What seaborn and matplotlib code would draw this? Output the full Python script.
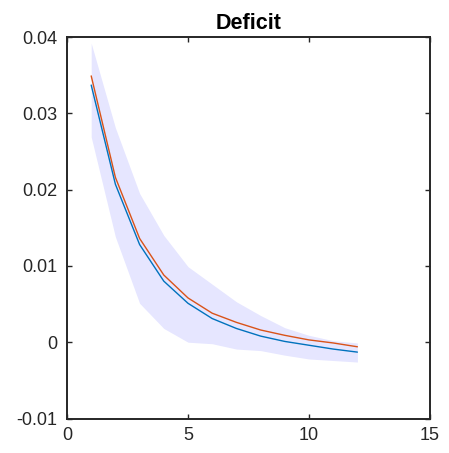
import matplotlib
matplotlib.use("Agg")
import matplotlib.pyplot as plt
import seaborn as sns
import pandas as pd

horizon = [1, 2, 3, 4, 5, 6, 7, 8, 9, 10, 11, 12]
median_resp = [0.0337, 0.0207, 0.0128, 0.0080, 0.0051, 0.0031, 0.0018, 0.0008, 0.0001, -0.0004, -0.0009, -0.0013]
point_resp = [0.0349, 0.0216, 0.0136, 0.0088, 0.0058, 0.0038, 0.0026, 0.0016, 0.0009, 0.0003, -0.0001, -0.0006]
upper_band = [0.0392, 0.0281, 0.0195, 0.0140, 0.0099, 0.0076, 0.0053, 0.0035, 0.0019, 0.0009, 0.0002, -0.0001]
lower_band = [0.0269, 0.0138, 0.0051, 0.0018, 0.0000, -0.0002, -0.0009, -0.0011, -0.0017, -0.0022, -0.0024, -0.0026]
x_ticks = [0, 5, 10, 15]
y_ticks = [-0.01, 0, 0.01, 0.02, 0.03, 0.04]
y_tick_labels = ["-0.01", "0", "0.01", "0.02", "0.03", "0.04"]
title = "Deficit"

sns.set_style("white")
plt.rcParams['font.family'] = ['Liberation Sans', 'DejaVu Sans']

df = pd.DataFrame({"h": horizon, "median": median_resp, "point": point_resp})

fig = plt.figure(figsize=(4.49, 4.53), dpi=100)
ax = fig.add_axes([67/449, 1 - 418.5/453, (430-67)/449, (418.5-37)/453])

ax.fill_between(horizon, lower_band, upper_band, color="#E6E6FF", linewidth=0, zorder=1)
sns.lineplot(data=df, x="h", y="point", ax=ax, color="#D95319", linewidth=1.0, zorder=2)
sns.lineplot(data=df, x="h", y="median", ax=ax, color="#0072BD", linewidth=1.0, zorder=3)

ax.set_xlim(0, 15)
ax.set_ylim(-0.01, 0.04)
ax.set_xticks(x_ticks)
ax.set_xticklabels([str(t) for t in x_ticks])
ax.set_yticks(y_ticks)
ax.set_yticklabels(y_tick_labels)
ax.set_xlabel("")
ax.set_ylabel("")
ax.tick_params(direction="in", length=3.5, width=1.0, colors="#262626",
               labelcolor="#262626", labelsize=13, top=True, right=True,
               bottom=True, left=True)
ax.tick_params(axis="y", pad=7)
ax.tick_params(axis="x", pad=6)
for s in ax.spines.values():
    s.set_visible(True)
    s.set_color("#262626")
    s.set_linewidth(1.4)
ax.set_title(title, fontsize=15.5, fontweight="bold", color="black", pad=6)

fig.savefig("out.png", dpi=100)
